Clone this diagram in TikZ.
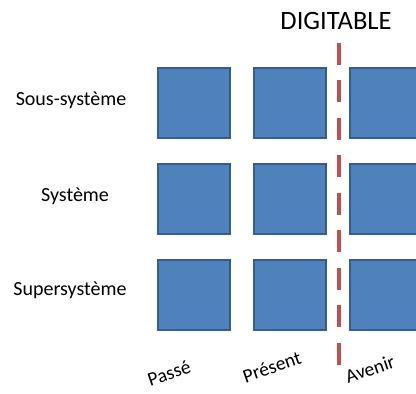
\documentclass[tikz,border=0pt]{standalone}
\usepackage{fontspec}
\setmainfont{Carlito}
\usetikzlibrary{positioning}
\definecolor{cBox}{RGB}{79,129,189}
\definecolor{cBoxLine}{RGB}{56,93,138}
\definecolor{cCut}{RGB}{192,80,77}
\tikzset{
  % Square cell
  cell/.style={
    rectangle, draw=cBoxLine, fill=cBox, line width=1.2pt,
    minimum width=72pt, minimum height=70pt, inner sep=0pt,
  },
  % Row label
  rowlab/.style={font=\fontsize{20}{24}\selectfont, inner sep=0pt},
  % Column label (tilted)
  collab/.style={font=\fontsize{19.5}{24}\selectfont, inner sep=0pt, rotate=19},
  % Cut line
  cut/.style={draw=cCut, line width=4.5pt, dash pattern=on 22pt off 15.5pt},
}

\begin{document}
\begin{tikzpicture}[x=1pt, y=1pt]

\clip (0,0) rectangle (416,394);

% ── Cells ─────────────────────────────────────────────────────────────────────
\node[cell] (c11) at (194,291) {};
\node[cell] (c12) at (290,291) {};
\node[cell] (c13) at (386,291) {};

\node[cell] (c21) at (194,195) {};
\node[cell] (c22) at (290,195) {};
\node[cell] (c23) at (386,195) {};

\node[cell] (c31) at (194,99) {};
\node[cell] (c32) at (290,99) {};
\node[cell] (c33) at (386,99) {};

% ── Row labels ────────────────────────────────────────────────────────────────
\node[rowlab] (sous) at (71,294) {Sous-système};
\node[rowlab] (sys) at (75,198) {Système};
\node[rowlab] (super) at (70,104) {Supersystème};

% ── Column labels ─────────────────────────────────────────────────────────────
\node[collab] (passe) at (169,21) {Passé};
\node[collab] (present) at (272,27) {Présent};
\node[collab] (avenir) at (370,25) {Avenir};

% ── Digitable cut ─────────────────────────────────────────────────────────────
\node[font=\fontsize{26.5}{30}\selectfont, inner sep=0pt] (digi) at (336,373) {DIGITABLE};

\coordinate (cuttop) at (339,351);
\coordinate (cutbot) at (339,29);
\draw[cut] (cuttop) -- (cutbot);

\end{tikzpicture}
\end{document}
